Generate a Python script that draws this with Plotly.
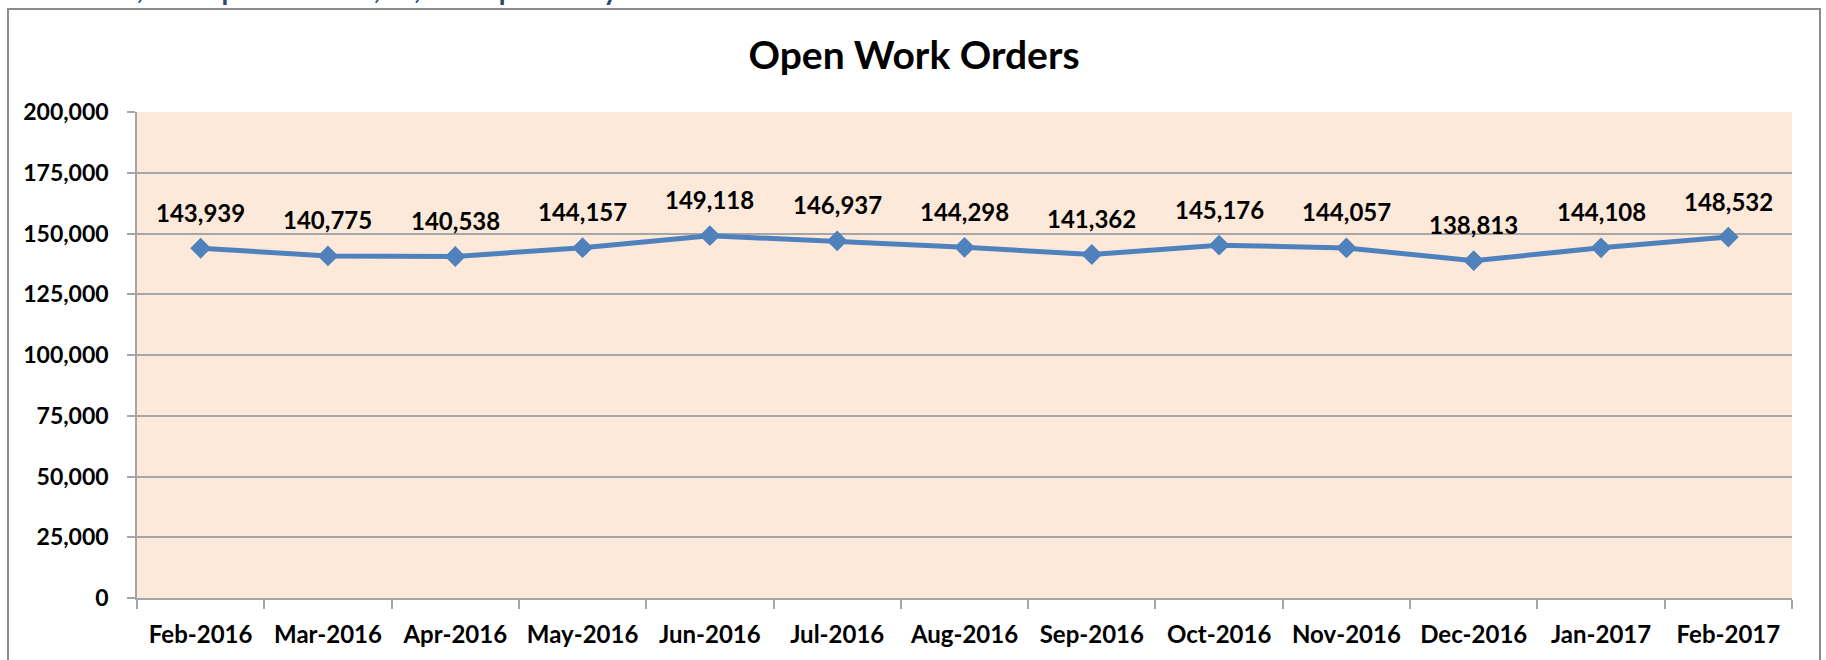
import plotly.graph_objects as go

months = ["Feb-2016", "Mar-2016", "Apr-2016", "May-2016", "Jun-2016", "Jul-2016",
          "Aug-2016", "Sep-2016", "Oct-2016", "Nov-2016", "Dec-2016", "Jan-2017", "Feb-2017"]
open_orders = [143939, 140775, 140538, 144157, 149118, 146937,
               144298, 141362, 145176, 144057, 138813, 144108, 148532]
y_ticks = [0, 25000, 50000, 75000, 100000, 125000, 150000, 175000, 200000]
title_text = "Open Work Orders"
header_text = "10,571 per week, 9,581 per day."

W, H = 1826, 660
L, R, T, B = 137, 34, 112, 62
pw, ph = W - L - R, H - T - B

def px_x(p):
    return (p - L) / pw

def px_y(p):
    return (H - B - p) / ph

FONT = "Lato"
LINE_BLUE = "#4F81BD"
GRID = "#A6A6A6"

fig = go.Figure()
fig.add_trace(go.Scatter(
    x=months, y=open_orders, mode="lines+markers",
    line=dict(color=LINE_BLUE, width=5),
    marker=dict(symbol="diamond", size=16, color=LINE_BLUE),
    hoverinfo="x+y", showlegend=False,
))

annotations = []
for m, v in zip(months, open_orders):
    annotations.append(dict(
        x=m, y=v, xref="x", yref="y", text=f"{v:,}", showarrow=False,
        yshift=36, font=dict(family=FONT, size=24, color="#000000", weight="bold"),
    ))

# cut-off text from the page above the chart
annotations.append(dict(
    x=px_x(90), y=px_y(8), xref="paper", yref="paper", xanchor="left", yanchor="bottom",
    text=header_text, showarrow=False,
    font=dict(family=FONT, size=38, color="#2B4A6E"),
))

fig.update_layout(
    width=W, height=H,
    margin=dict(l=L, r=R, t=T, b=B, pad=0),
    paper_bgcolor="#FFFFFF",
    plot_bgcolor="#FDE9D9",
    title=dict(text=title_text, x=914 / W, xref="container", xanchor="center",
               y=1 - 55 / H, yref="container", yanchor="middle",
               font=dict(family=FONT, size=39, color="#000000", weight="bold")),
    annotations=annotations,
    shapes=[dict(type="rect", xref="paper", yref="paper",
                 x0=px_x(8), x1=px_x(1820), y0=px_y(700), y1=px_y(9),
                 line=dict(color="#8C8C8C", width=2), fillcolor="rgba(0,0,0,0)", layer="below")],
    xaxis=dict(
        type="category", range=[-0.5, len(months) - 0.5], tickson="boundaries",
        ticks="outside", ticklen=9, automargin=False,
        tickcolor=GRID, tickwidth=1.5, showline=True, linecolor=GRID, linewidth=1.5,
        showgrid=False, ticklabelstandoff=14,
        tickfont=dict(family=FONT, size=24, color="#000000", weight="bold"),
    ),
    yaxis=dict(
        range=[0, 200000], tickvals=y_ticks, tickformat=",d", automargin=False,
        ticks="outside", ticklen=8, tickcolor=GRID, tickwidth=1.5,
        showline=True, linecolor=GRID, linewidth=1.5, mirror=False,
        showgrid=True, gridcolor=GRID, gridwidth=1.5, zeroline=False,
        ticklabelstandoff=14,
        tickfont=dict(family=FONT, size=23, color="#000000", weight="bold"),
    ),
)

fig.write_html(
    "out.html",
    config={"displayModeBar": False},
    post_script="document.body.style.margin='0';document.body.style.overflow='hidden';",
)
